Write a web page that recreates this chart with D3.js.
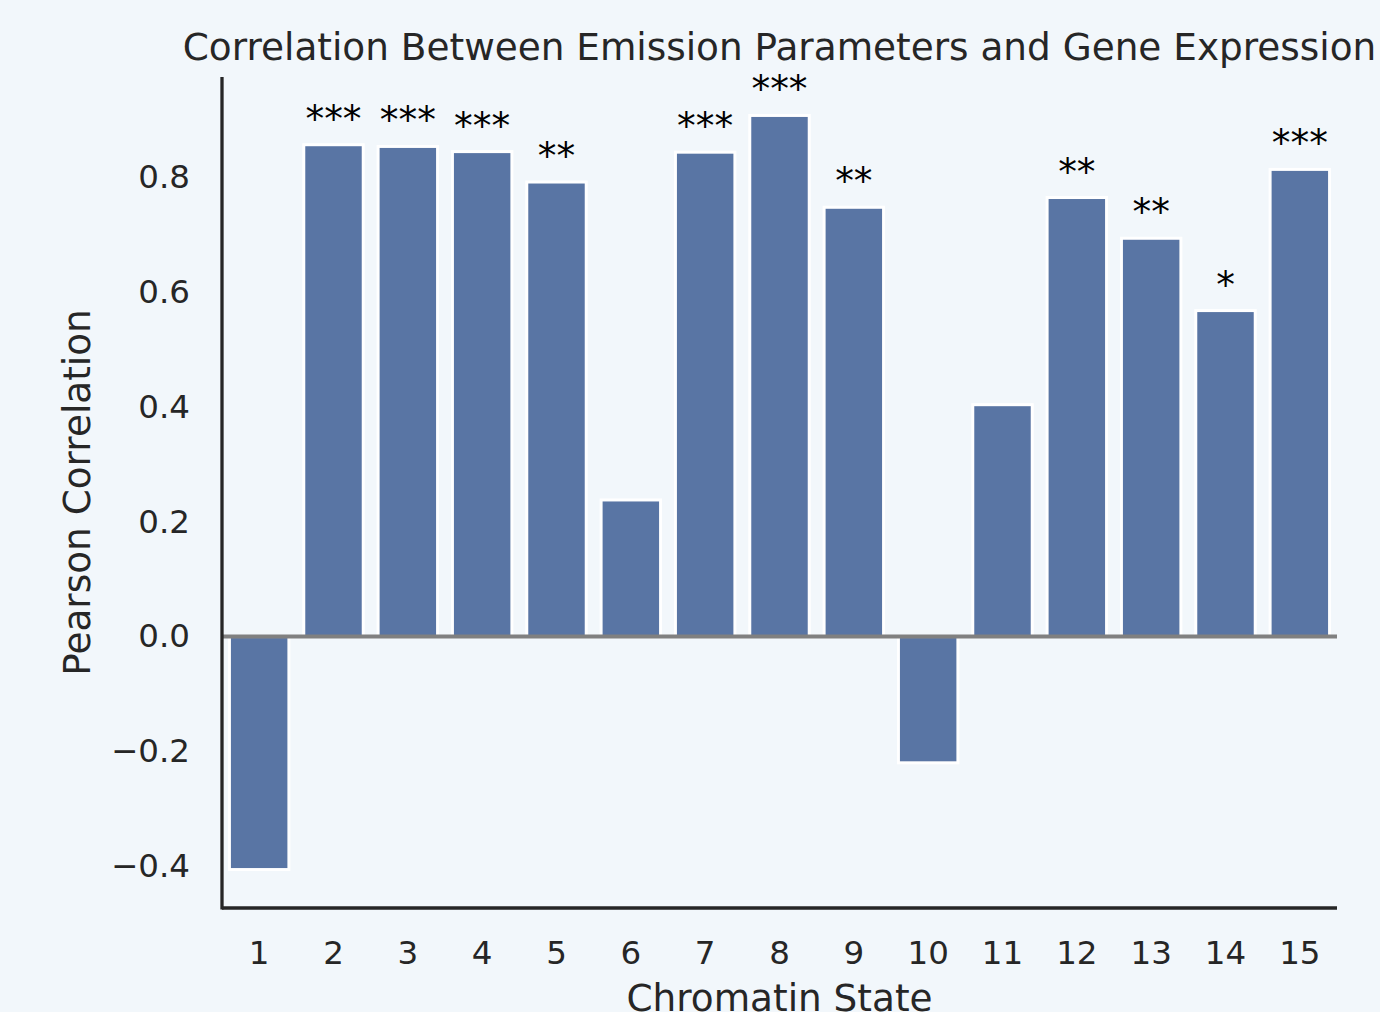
<!DOCTYPE html>
<html>
<head>
<meta charset="utf-8">
<script src="https://cdn.jsdelivr.net/npm/d3@7"></script>
<style>
  body { margin: 0; background: #f2f7fb; }
  svg { display: block; font-family: "DejaVu Sans", sans-serif; }
</style>
</head>
<body>
<svg id="chart" width="1380" height="1012"></svg>
<script>
// chromatin states and their correlation with expression
const states = ['1','2','3','4','5','6','7','8','9','10','11','12','13','14','15'];
const correlations = [-0.406, 0.857, 0.854, 0.845, 0.792, 0.238, 0.844, 0.908, 0.748, -0.220, 0.404, 0.765, 0.694, 0.568, 0.814];
const stars = ['', '***', '***', '***', '**', '', '***', '***', '**', '', '', '**', '**', '*', '***'];
const yTicks = [-0.4, -0.2, 0.0, 0.2, 0.4, 0.6, 0.8];

const svg = d3.select('#chart');
const plotLeft = 222, plotRight = 1337, plotTop = 77, plotBottom = 908;

const x = d3.scaleBand()
	.domain(states)
	.range([plotLeft, plotRight])
	.paddingInner(0.2)
	.paddingOuter(0.1);

const y = d3.scaleLinear()
	.domain([-0.473, 0.975])
	.range([plotBottom, plotTop]);

const data = states.map((s, i) => ({state: s, value: correlations[i], star: stars[i]}));

// bars
svg.append('g')
	.selectAll('rect')
	.data(data)
	.enter()
	.append('rect')
	.attr('x', d => x(d.state))
	.attr('width', x.bandwidth())
	.attr('y', d => y(Math.max(0, d.value)))
	.attr('height', d => Math.abs(y(d.value) - y(0)))
	.style('fill', '#5975a4')
	.style('stroke', '#ffffff')
	.style('stroke-width', 3);

// zero line
svg.append('line')
	.attr('x1', plotLeft).attr('x2', plotRight)
	.attr('y1', y(0)).attr('y2', y(0))
	.style('stroke', '#808080')
	.style('stroke-width', 4);

// significance stars
svg.append('g')
	.selectAll('text')
	.data(data.filter(d => d.star))
	.enter()
	.append('text')
	.attr('x', d => x(d.state) + x.bandwidth() / 2)
	.attr('y', d => y(d.value) - 13)
	.attr('text-anchor', 'middle')
	.style('font-size', '37.4px')
	.style('fill', '#000')
	.text(d => d.star);

// axes
const yAxis = svg.append('g')
	.attr('transform', `translate(${plotLeft},0)`)
	.call(d3.axisLeft(y).tickValues(yTicks).tickSize(0).tickPadding(32)
		.tickFormat(d => d3.format('.1f')(d).replace('-', '\u2212')));
yAxis.attr('font-family', null).attr('font-size', null);
yAxis.select('.domain').remove();
yAxis.selectAll('text').style('font-size', '32.5px').style('fill', '#262626');

const xAxis = svg.append('g')
	.attr('transform', `translate(0,${plotBottom})`)
	.call(d3.axisBottom(x).tickSize(0));
xAxis.attr('font-family', null).attr('font-size', null);
xAxis.select('.domain').remove();
xAxis.selectAll('text')
	.attr('y', 55.5).attr('dy', null)
	.style('font-size', '32.5px').style('fill', '#262626');

// spines
svg.append('line')
	.attr('x1', plotLeft).attr('x2', plotLeft).attr('y1', plotTop).attr('y2', plotBottom + 1.5)
	.style('stroke', '#262626').style('stroke-width', 3.3);
svg.append('line')
	.attr('x1', plotLeft).attr('x2', plotRight).attr('y1', plotBottom).attr('y2', plotBottom)
	.style('stroke', '#262626').style('stroke-width', 3.3);

// titles
svg.append('text')
	.attr('x', (plotLeft + plotRight) / 2).attr('y', 60)
	.attr('text-anchor', 'middle')
	.style('font-size', '37.4px').style('fill', '#262626')
	.text('Correlation Between Emission Parameters and Gene Expression');

svg.append('text')
	.attr('x', (plotLeft + plotRight) / 2).attr('y', 1011)
	.attr('text-anchor', 'middle')
	.style('font-size', '37.4px').style('fill', '#262626')
	.text('Chromatin State');

svg.append('text')
	.attr('transform', `translate(90,${(plotTop + plotBottom) / 2}) rotate(-90)`)
	.attr('text-anchor', 'middle')
	.style('font-size', '37.4px').style('fill', '#262626')
	.text('Pearson Correlation');
</script>
</body>
</html>
